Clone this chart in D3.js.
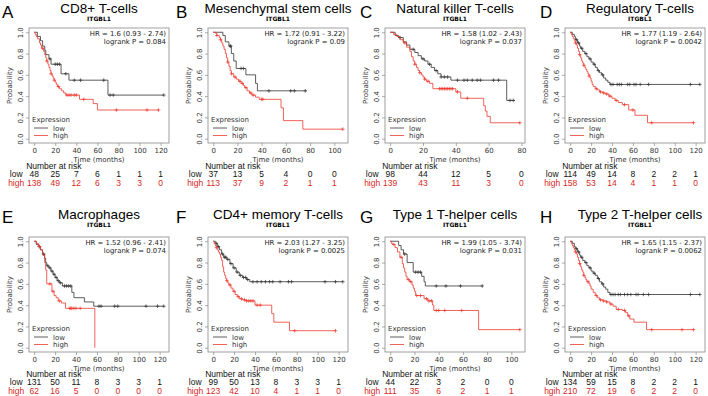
<!DOCTYPE html>
<html>
<head>
<meta charset="utf-8">
<script src="https://cdn.jsdelivr.net/npm/d3@7"></script>
<style>
  body { margin: 0; background: #fff; }
  svg { display: block; }
</style>
</head>
<body>
<div id="container"></div>
<script>
/* DATA: panel labels and texts */
const letters = ["A", "B", "C", "D", "E", "F", "G", "H"];
const titles = ["CD8+ T-cells", "Mesenchymal stem cells", "Natural killer T-cells", "Regulatory T-cells",
  "Macrophages", "CD4+ memory T-cells", "Type 1 T-helper cells", "Type 2 T-helper cells"];
const hrTexts = ["HR = 1.6 (0.93 - 2.74)", "HR = 1.72 (0.91 - 3.22)", "HR = 1.58 (1.02 - 2.43)", "HR = 1.77 (1.19 - 2.64)",
  "HR = 1.52 (0.96 - 2.41)", "HR = 2.03 (1.27 - 3.25)", "HR = 1.99 (1.05 - 3.74)", "HR = 1.65 (1.15 - 2.37)"];
const pTexts = ["logrank P = 0.084", "logrank P = 0.09", "logrank P = 0.037", "logrank P = 0.0042",
  "logrank P = 0.074", "logrank P = 0.0025", "logrank P = 0.031", "logrank P = 0.0062"];
const xMaxes = [123, 107, 79, 124, 124, 124, 107, 124];
const tickMaxes = [120, 100, 80, 120, 120, 120, 100, 120];
const highLabels = ["high", "high", "high", "high", "high", "high", "high", "hgih"];

/* numbers at risk */
const riskLow = [
  [48, 25, 7, 6, 1, 1, 1], [37, 13, 5, 4, 0, 0], [98, 44, 12, 5, 0], [114, 49, 14, 8, 2, 2, 1],
  [131, 50, 11, 8, 3, 3, 1], [99, 50, 13, 8, 3, 3, 1], [44, 22, 3, 2, 0, 0], [134, 59, 15, 8, 2, 2, 1]];
const riskHigh = [
  [138, 49, 12, 6, 3, 3, 0], [113, 37, 9, 2, 1, 1], [139, 43, 11, 3, 0], [158, 53, 14, 4, 1, 1, 0],
  [62, 16, 5, 0, 0, 0, 0], [123, 42, 10, 4, 1, 1, 0], [111, 35, 6, 2, 1, 1], [210, 72, 19, 6, 2, 2, 0]];

/* survival steps [time, survival after drop] */
const lowSteps = [
  [[3,0.96],[6,0.92],[8,0.87],[10,0.83],[11,0.79],[14,0.75],[16,0.70],[25.5,0.61],[33,0.55],[70,0.41]],
  [[8,0.97],[10,0.91],[13,0.87],[15,0.8],[17,0.73],[19,0.66],[27,0.6],[35,0.52],[36.5,0.45]],
  [[3,0.97],[5,0.95],[8,0.91],[10,0.88],[12,0.84],[15,0.81],[17,0.78],[19,0.75],[21,0.73],[23,0.7],[25,0.67],[27,0.64],[29,0.61],[31,0.58],[37,0.55],[71,0.36]],
  [[2,0.98],[4,0.96],[5,0.93],[7,0.9],[9,0.87],[10,0.85],[12,0.82],[14,0.8],[16,0.77],[18,0.75],[20,0.72],[22,0.7],[24,0.67],[26,0.64],[28,0.62],[30,0.6],[32,0.57],[34,0.55],[36,0.53],[38,0.51]],
  [[2,0.97],[4,0.95],[6,0.92],[8,0.88],[10,0.84],[11,0.8],[12,0.77],[14,0.75],[16,0.72],[18,0.69],[20,0.66],[22,0.63],[24,0.61],[27,0.58],[36,0.52],[38,0.47],[48,0.43],[57,0.39]],
  [[2,0.98],[4,0.95],[6,0.92],[8,0.88],[10,0.85],[13,0.83],[16,0.79],[19,0.75],[22,0.71],[25,0.68],[28,0.66],[32,0.64],[35,0.62]],
  [[7,0.96],[9,0.92],[11,0.88],[14,0.8],[19,0.71],[26,0.67],[28,0.62],[29,0.58]],
  [[2,0.98],[4,0.95],[5,0.93],[7,0.9],[9,0.87],[10,0.85],[12,0.82],[14,0.8],[16,0.77],[18,0.75],[20,0.72],[22,0.7],[24,0.68],[26,0.65],[28,0.62],[30,0.6],[32,0.57],[34,0.55],[36,0.52],[38,0.5]]
];
const highSteps = [
  [[1,0.98],[2,0.96],[3,0.94],[5,0.9],[6,0.88],[7,0.85],[9,0.82],[10,0.79],[11,0.76],[12,0.73],[13,0.7],[14,0.67],[15,0.64],[16,0.61],[17,0.59],[18,0.57],[19,0.55],[20,0.53],[21,0.51],[22,0.49],[24,0.47],[26,0.45],[28,0.43],[30,0.41],[43,0.37],[56,0.33],[60,0.27]],
  [[2,0.99],[3,0.97],[5,0.95],[6,0.93],[7,0.9],[8,0.87],[9,0.84],[10,0.8],[11,0.76],[12,0.72],[13,0.68],[14,0.64],[15,0.61],[17,0.58],[19,0.56],[21,0.54],[23,0.52],[25,0.5],[26,0.48],[28,0.45],[30,0.43],[32,0.41],[35,0.39],[38,0.37],[56,0.29],[58,0.17],[74,0.09]],
  [[2,0.98],[4,0.96],[6,0.93],[8,0.9],[10,0.86],[12,0.82],[13,0.77],[14,0.73],[15,0.7],[16,0.67],[17,0.64],[18,0.62],[19,0.6],[20,0.58],[21,0.56],[22,0.54],[24,0.52],[26,0.47],[40,0.44],[43,0.38],[57,0.31],[58,0.26],[59,0.21],[61,0.15]],
  [[1,0.98],[2,0.96],[3,0.94],[4,0.92],[5,0.9],[6,0.88],[7,0.85],[8,0.82],[9,0.79],[10,0.76],[11,0.73],[12,0.71],[13,0.69],[14,0.67],[15,0.65],[16,0.63],[17,0.61],[18,0.59],[19,0.57],[20,0.54],[21,0.51],[22,0.49],[24,0.47],[26,0.46],[28,0.44],[31,0.43],[34,0.42],[37,0.4],[40,0.38],[43,0.36],[46,0.34],[50,0.32],[56,0.27],[62,0.22],[74,0.15]],
  [[2,0.98],[4,0.95],[6,0.92],[8,0.87],[10,0.8],[11,0.73],[12,0.6],[17,0.53],[19,0.49],[21,0.47],[23,0.44],[26,0.42],[30,0.37],[58,0]],
  [[1,0.98],[2,0.96],[3,0.94],[4,0.92],[5,0.9],[6,0.88],[7,0.85],[8,0.82],[9,0.76],[10,0.71],[11,0.68],[12,0.65],[13,0.63],[14,0.61],[15,0.59],[17,0.56],[19,0.53],[21,0.5],[23,0.48],[25,0.46],[28,0.45],[31,0.44],[40,0.4],[56,0.32],[58,0.24],[73,0.16]],
  [[1,0.98],[2,0.97],[4,0.94],[6,0.9],[8,0.85],[10,0.79],[11,0.75],[12,0.71],[13,0.67],[14,0.64],[16,0.62],[18,0.59],[19,0.56],[20,0.53],[21,0.49],[28,0.46],[31,0.44],[35,0.4],[36,0.35],[73,0.17]],
  [[1,0.98],[2,0.96],[3,0.94],[4,0.92],[5,0.9],[6,0.88],[7,0.85],[8,0.82],[9,0.79],[10,0.76],[11,0.73],[12,0.71],[13,0.68],[14,0.66],[15,0.64],[16,0.62],[18,0.6],[19,0.58],[20,0.55],[22,0.52],[24,0.49],[26,0.47],[28,0.45],[31,0.44],[35,0.43],[38,0.41],[41,0.39],[44,0.36],[50,0.35],[53,0.33],[55,0.3],[57,0.27],[61,0.24],[73,0.17]]
];
const lowEnds = [123, 77, 76, 124, 124, 124, 76, 124];
const highEnds = [118, 107, 79, 118, 58, 117, 107, 118];

/* censoring times */
const lowCens = [
  [15,20,22,24,30,38,44,66,72,75,123],
  [14,14.5,23,25,46,64,67,76],
  [6,14,20,24,28,31,33,35,41,45,47,50,53,55,63,66,73,75],
  [6,8,11,15,19,23,27,31,39,41,45,47,49,55,57,61,63,67,75,115,124],
  [5,9,13,15,17,19,21,23,25,29,31,33,35,62,64,77,80,107,118,124],
  [3,5,9,11,12,14,17,20,23,26,29,31,33,38,42,46,50,54,57,64,72,75,107,117,124],
  [12,21,23,25,38,46,58,76],
  [6,8,11,15,19,23,27,31,39,41,43,46,48,52,55,58,63,65,70,75,115,124]
];
const highCens = [
  [8,12,16,19,23,31,33,35,38,40,47,78,107,118],
  [3,6,12,15,18,22,24,27,31,33,40,41,107],
  [9,15,18,21,23,30,31,32,33,34,35,36,37,38,41,47,79],
  [5,9,13,18,25,29,32,35,38,44,52,60,78,118],
  [5,15,18,24,34,35,36,38,40,44],
  [3,13,16,20,24,27,30,32,34,36,38,42,45,78,117],
  [3,9,15,17,22,25,30,32,34,38,40,45,59,107],
  [5,9,13,17,25,29,32,35,39,46,52,56,78,107,118]
];

/* CONSTANTS */
const width = 708, height = 396;
const boxLefts = [29, 208, 385, 565];
const letterXs = [2, 176, 360, 540];
const rowOffsets = [0, 209];
const boxW = 140, boxH = 115, boxTop = 28;
const lowColor = "#333", highColor = "#ee3b30";
const plotFont = "DejaVu Sans, sans-serif";
const textFont = "Liberation Sans, Arial, sans-serif";

const svg = d3.select("#container").append("svg")
  .attr("width", width).attr("height", height);

function survAt(steps, t) {
  let s = 1;
  steps.forEach(d => { if (d[0] <= t) s = d[1]; });
  return s;
}

letters.forEach((letter, i) => {
  const col = i % 4, row = Math.floor(i / 4);
  const left = boxLefts[col], oy = rowOffsets[row];
  const top = oy + boxTop, bottom = top + boxH;
  const cx = left + boxW / 2 + (col === 3 ? 5 : 0);
  const ty = row === 0 ? 0 : oy - 3;

  const xScale = d3.scaleLinear()
    .domain([-0.04 * xMaxes[i], 1.04 * xMaxes[i]])
    .range([left, left + boxW]);
  const yScale = d3.scaleLinear()
    .domain([-0.04, 1.04])
    .range([bottom, top]);

  const g = svg.append("g");

  // letter and title
  g.append("text").attr("x", letterXs[col]).attr("y", row === 0 ? 18 : oy + 14)
    .attr("font-family", textFont).attr("font-size", 17).text(letter);
  g.append("text").attr("x", cx).attr("y", ty + 13).attr("text-anchor", "middle")
    .attr("font-family", textFont).attr("font-size", 13.5).text(titles[i]);
  g.append("text").attr("x", cx).attr("y", ty + 21).attr("text-anchor", "middle")
    .attr("font-family", plotFont).attr("font-size", 6).attr("font-weight", "bold").text("ITGBL1");

  // box
  g.append("rect").attr("x", left).attr("y", top).attr("width", boxW).attr("height", boxH)
    .attr("fill", "none").attr("stroke", "#888").attr("stroke-width", 0.8);

  // axes
  const xAxis = g.append("g").attr("transform", `translate(0,${bottom})`)
    .call(d3.axisBottom(xScale).tickValues(d3.range(0, tickMaxes[i] + 1, 20)).tickSize(3).tickPadding(2));
  const yAxis = g.append("g").attr("transform", `translate(${left},0)`)
    .call(d3.axisLeft(yScale).tickValues([0, 0.2, 0.4, 0.6, 0.8, 1.0]).tickFormat(d3.format(".1f")).tickSize(3).tickPadding(2));
  [xAxis, yAxis].forEach(a => {
    a.select(".domain").remove();
    a.selectAll("line").attr("stroke", "#888").attr("stroke-width", 0.7);
    a.selectAll("text").attr("font-family", plotFont).attr("font-size", 7).attr("fill", "#333");
  });
  yAxis.selectAll(".tick text")
    .attr("text-anchor", "middle")
    .attr("x", 0).attr("y", 0).attr("dy", 0)
    .attr("transform", "translate(-6,0) rotate(-90)");

  g.append("text").attr("transform", `translate(${left - 17},${(top + bottom) / 2}) rotate(-90)`)
    .attr("text-anchor", "middle").attr("font-family", plotFont).attr("font-size", 7).attr("fill", "#333")
    .text("Probability");
  g.append("text").attr("x", left + boxW / 2).attr("y", bottom + 19).attr("text-anchor", "middle")
    .attr("font-family", plotFont).attr("font-size", 7).attr("fill", "#333").text("Time (months)");

  // HR text
  g.append("text").attr("x", left + boxW - 3).attr("y", top + 8).attr("text-anchor", "end")
    .attr("font-family", plotFont).attr("font-size", 6.9).attr("fill", "#222").text(hrTexts[i]);
  g.append("text").attr("x", left + boxW - 3).attr("y", top + 16).attr("text-anchor", "end")
    .attr("font-family", plotFont).attr("font-size", 6.9).attr("fill", "#222").text(pTexts[i]);

  // legend
  g.append("text").attr("x", left + 3).attr("y", bottom - 21)
    .attr("font-family", plotFont).attr("font-size", 7).attr("fill", "#333").text("Expression");
  [["low", lowColor, 12.5], ["high", highColor, 5]].forEach(([lab, c, dy]) => {
    g.append("line").attr("x1", left + 5).attr("x2", left + 19).attr("y1", bottom - dy - 2.5).attr("y2", bottom - dy - 2.5)
      .attr("stroke", c).attr("stroke-width", 0.8);
    g.append("text").attr("x", left + 24).attr("y", bottom - dy)
      .attr("font-family", plotFont).attr("font-size", 7).attr("fill", "#333").text(lab);
  });

  // curves
  const line = d3.line().x(d => xScale(d[0])).y(d => yScale(d[1])).curve(d3.curveStepAfter);
  const curves = [
    [lowSteps[i], lowEnds[i], lowCens[i], lowColor],
    [highSteps[i], highEnds[i], highCens[i], highColor]
  ];
  curves.forEach(([steps, end, cens, c]) => {
    const last = steps[steps.length - 1][1];
    const pts = [[0, 1]].concat(steps, [[end, last]]);
    g.append("path").datum(pts).attr("d", line)
      .attr("fill", "none").attr("stroke", c).attr("stroke-width", 0.8);
    g.selectAll(null).data(cens).enter().append("path")
      .attr("transform", t => `translate(${xScale(t)},${yScale(survAt(steps, t))})`)
      .attr("d", "M-1.8,0H1.8M0,-1.8V1.8")
      .attr("stroke", c).attr("stroke-width", 0.7);
  });

  // number at risk
  const x0 = xScale(0);
  const ry = row === 0 ? 0 : oy - 1;
  const fs = 8.5;
  g.append("text").attr("x", x0 - 8).attr("y", ry + 169)
    .attr("font-family", textFont).attr("font-size", fs).attr("fill", "#111").text("Number at risk");
  g.append("text").attr("x", x0 - 18).attr("y", ry + 177).attr("text-anchor", "middle")
    .attr("font-family", textFont).attr("font-size", fs).attr("fill", "#111").text("low");
  g.append("text").attr("x", x0 - 18).attr("y", ry + 185.5).attr("text-anchor", "middle")
    .attr("font-family", textFont).attr("font-size", fs).attr("fill", "#d8281e").text(highLabels[i]);
  g.selectAll(null).data(riskLow[i]).enter().append("text")
    .attr("x", (d, k) => xScale(k * 20)).attr("y", ry + 177).attr("text-anchor", "middle")
    .attr("font-family", textFont).attr("font-size", fs).attr("fill", "#111").text(d => d);
  g.selectAll(null).data(riskHigh[i]).enter().append("text")
    .attr("x", (d, k) => xScale(k * 20)).attr("y", ry + 185.5).attr("text-anchor", "middle")
    .attr("font-family", textFont).attr("font-size", fs).attr("fill", "#d8281e").text(d => d);
});
</script>
</body>
</html>
